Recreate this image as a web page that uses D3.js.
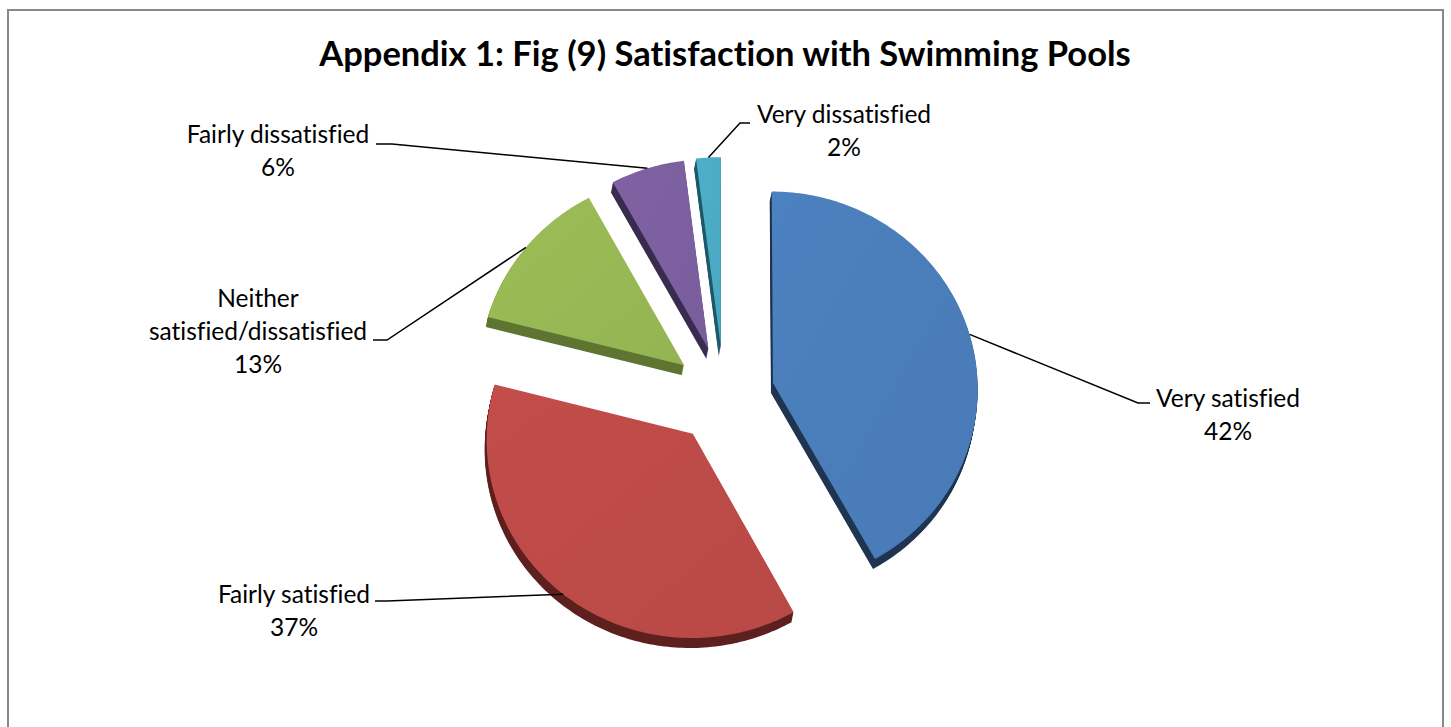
<!DOCTYPE html>
<html>
<head>
<meta charset="utf-8">
<script src="https://cdn.jsdelivr.net/npm/d3@7"></script>
<style>
  html, body { margin: 0; padding: 0; background: #ffffff; }
  svg { display: block; }
  text { font-family: Lato, "Open Sans", sans-serif; fill: #000; font-variant-ligatures: none; font-feature-settings: "liga" 0; }
</style>
</head>
<body>
<script>
// Satisfaction with swimming pools (survey shares, %)
const categories = ["Very satisfied", "Fairly satisfied", "Neither satisfied/dissatisfied", "Fairly dissatisfied", "Very dissatisfied"];
const values = [42, 37, 13, 6, 2];
const labelLines = [["Very satisfied"], ["Fairly satisfied"], ["Neither", "satisfied/dissatisfied"], ["Fairly dissatisfied"], ["Very dissatisfied"]];
const topColors = ["#4a7ebb", "#be4b48", "#98b954", "#7d60a0", "#4bacc6"];
const sideColors = ["#1f3552", "#5e211f", "#5f7532", "#3a2c4f", "#1f5a6a"];
const title = "Appendix 1: Fig (9) Satisfaction with Swimming Pools";

const W = 1451, H = 727;
const svg = d3.select("body").append("svg").attr("width", W).attr("height", H);

// frame
svg.append("rect")
  .attr("x", 8).attr("y", 10).attr("width", 1435).attr("height", 760)
  .attr("fill", "#fff").attr("stroke", "#888").attr("stroke-width", 2);

svg.append("text")
  .attr("x", 725).attr("y", 66)
  .attr("text-anchor", "middle")
  .attr("font-size", 34.5).attr("font-weight", 700)
  .text(title);

// tilted pie: unit disc projected with mild perspective
const CX = 724, CY = 395, RX = 205, RY = 197, K = 0.026, EXPLODE = 0.247;
const DEPTH = [-2, 10];
const sx = d3.scaleLinear().domain([-1, 1]).range([CX - RX, CX + RX]);
const sy = d3.scaleLinear().domain([-1, 1]).range([CY - RY, CY + RY]);
function proj(X, Y) {
  const w = 1 - K * Y;
  return [sx(X / w), sy(Y / w)];
}

const arcs = d3.pie().sort(null).value(d => d)(values);

function apexOf(a) {
  const m = (a.startAngle + a.endAngle) / 2;
  return [EXPLODE * Math.sin(m), -EXPLODE * Math.cos(m)];
}

function slicePoints(a) {
  const ap = apexOf(a);
  const pts = [proj(ap[0], ap[1])];
  const n = Math.max(6, Math.ceil((a.endAngle - a.startAngle) * 180 / Math.PI));
  for (let i = 0; i <= n; i++) {
    const t = a.startAngle + (a.endAngle - a.startAngle) * i / n;
    pts.push(proj(ap[0] + Math.sin(t), ap[1] - Math.cos(t)));
  }
  return pts;
}

const line = d3.line();
const defs = svg.append("defs");
topColors.forEach((c, i) => {
  const g = defs.append("linearGradient").attr("id", "g" + i)
    .attr("x1", "0%").attr("y1", "0%").attr("x2", "100%").attr("y2", "100%");
  g.append("stop").attr("offset", "0%").attr("stop-color", d3.color(c).brighter(0.06));
  g.append("stop").attr("offset", "100%").attr("stop-color", d3.color(c).darker(0.08));
});

const pieG = svg.append("g");
arcs.forEach((a, i) => {
  const pts = slicePoints(a);
  const d = line(pts) + "Z";
  const g = pieG.append("g");
  const steps = 12;
  for (let s = steps; s >= 1; s--) {
    g.append("path").attr("d", d)
      .attr("transform", `translate(${DEPTH[0] * s / steps},${DEPTH[1] * s / steps})`)
      .attr("fill", sideColors[i]);
  }
  g.append("path").attr("d", d).attr("fill", `url(#g${i})`);
});

// data labels with leader lines
const labelLayout = [
  { tx: 1228, ty: 407, elbow: [1138, 403], end: [1150, 403] },
  { tx: 294, ty: 603, elbow: [387, 601], end: [375, 601] },
  { tx: 258, ty: 307, elbow: [387, 340], end: [373, 340] },
  { tx: 278, ty: 143, elbow: [392, 144], end: [376, 144] },
  { tx: 844, ty: 123, elbow: [740, 123], end: [750, 123] }
];
const LH = 33;

arcs.forEach((a, i) => {
  const ap = apexOf(a);
  const m = (a.startAngle + a.endAngle) / 2;
  const anchor = proj(ap[0] + Math.sin(m), ap[1] - Math.cos(m));
  const L = labelLayout[i];
  svg.append("path")
    .attr("d", line([anchor, L.elbow, L.end]))
    .attr("fill", "none").attr("stroke", "#000").attr("stroke-width", 1.5);
  const t = svg.append("text")
    .attr("text-anchor", "middle").attr("font-size", 24.5);
  const lines = labelLines[i].concat([values[i] + "%"]);
  lines.forEach((s, j) => {
    t.append("tspan").attr("x", L.tx).attr("y", L.ty + j * LH).text(s);
  });
});
</script>
</body>
</html>
